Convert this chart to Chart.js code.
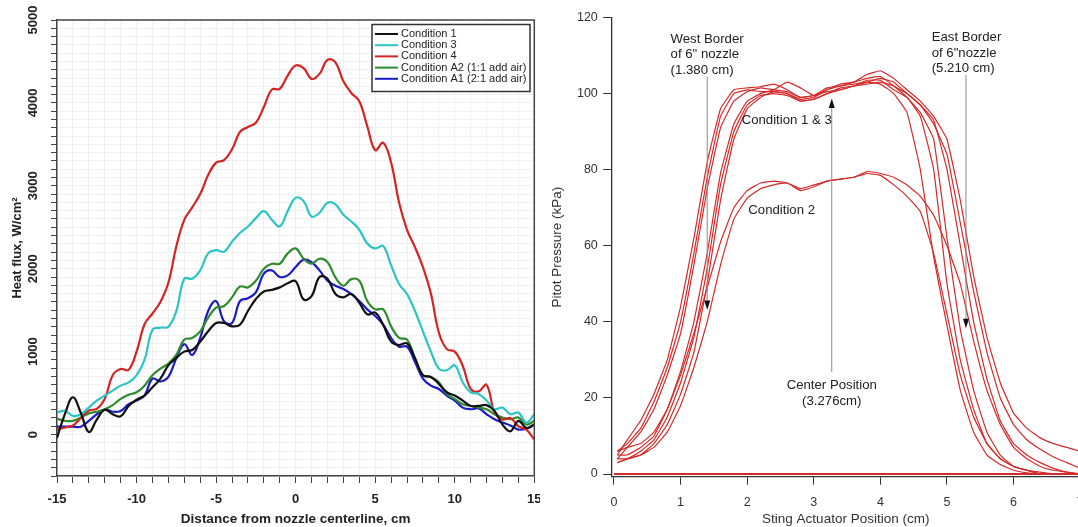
<!DOCTYPE html>
<html lang="en">
<head>
<meta charset="UTF-8">
<title>Heat flux and pitot pressure profiles</title>
<script src="https://cdn.jsdelivr.net/npm/chart.js"></script>
<style>
  html, body { margin: 0; padding: 0; overflow: hidden; background: #fff; }
  #left { position: absolute; left: 0; top: 0; }
  #right { position: absolute; left: 540px; top: 0; }
</style>
</head>
<body>
<canvas id="left" width="540" height="527"></canvas>
<canvas id="right" width="545" height="527"></canvas>
<script>
// ---- left panel: heat flux across the nozzle ----
const distance = [-15, -14.5, -14, -13.5, -13, -12.5, -12, -11.5, -11, -10.5, -10, -9.5, -9, -8.5, -8, -7.5, -7, -6.5, -6, -5.5,
  -5, -4.5, -4, -3.5, -3, -2.5, -2, -1.5, -1, -0.5, 0, 0.5, 1, 1.5, 2, 2.5, 3, 3.5, 4, 4.5,
  5, 5.5, 6, 6.5, 7, 7.5, 8, 8.5, 9, 9.5, 10, 10.5, 11, 11.5, 12, 12.5, 13, 13.5, 14, 14.5, 15];

const cond1 = [-40, 250, 450, 260, 30, 180, 300, 245, 220, 345, 420, 470, 570, 675, 835, 925, 1000, 1020, 1120, 1245,
  1345, 1345, 1305, 1325, 1490, 1635, 1725, 1745, 1775, 1825, 1850, 1630, 1670, 1900, 1880, 1695, 1655, 1695, 1590, 1450,
  1470, 1325, 1120, 1080, 1100, 920, 715, 695, 610, 510, 470, 410, 345, 345, 355, 285, 120, 40, 165, 80, 120];
const cond3 = [265, 285, 225, 245, 325, 410, 470, 530, 590, 630, 715, 900, 1265, 1290, 1300, 1490, 1880, 1880, 1980, 2185,
  2225, 2205, 2325, 2430, 2510, 2610, 2695, 2590, 2510, 2695, 2855, 2815, 2630, 2675, 2795, 2775, 2650, 2570, 2470, 2305,
  2245, 2275, 2040, 1815, 1695, 1490, 1245, 1000, 795, 775, 835, 630, 510, 490, 410, 305, 325, 245, 265, 145, 245];
const cond4 = [60, 85, 110, 200, 290, 310, 430, 715, 790, 780, 1000, 1330, 1460, 1600, 1830, 2270, 2590, 2740, 2900, 3130,
  3280, 3310, 3440, 3650, 3710, 3760, 3950, 4160, 4170, 4330, 4450, 4420, 4290, 4350, 4520, 4490, 4260, 4120, 4020, 3720,
  3430, 3520, 3280, 2800, 2470, 2260, 2020, 1700, 1230, 1030, 1000, 830, 550, 520, 600, 270, 180, 200, 100, 60, -60];
const condA2 = [190, 165, 165, 205, 255, 275, 305, 355, 430, 480, 510, 590, 715, 795, 855, 960, 1145, 1165, 1245, 1410,
  1530, 1550, 1655, 1785, 1775, 1855, 2000, 2060, 2060, 2185, 2245, 2120, 2060, 2120, 2080, 1895, 1795, 1875, 1855, 1610,
  1510, 1510, 1305, 1165, 1145, 920, 715, 695, 630, 490, 430, 365, 345, 325, 305, 245, 205, 185, 205, 120, 165];
const condA1 = [95, 95, 95, 95, 165, 245, 300, 275, 285, 365, 410, 470, 675, 640, 695, 920, 1090, 960, 1165, 1490,
  1610, 1365, 1345, 1610, 1645, 1715, 1940, 1980, 1900, 1920, 2020, 2110, 2080, 1980, 1855, 1795, 1755, 1695, 1610, 1510,
  1430, 1325, 1165, 1060, 1060, 875, 675, 590, 550, 470, 410, 325, 305, 315, 245, 185, 145, 110, 60, 70, 120];

const heatLabels = ['Condition 1', 'Condition 3', 'Condition 4', 'Condition A2 (1:1 add air)', 'Condition A1 (2:1 add air)'];
const heatSeries = [cond1, cond3, cond4, condA2, condA1];
const heatColors = ['#111111', '#2cc4c4', '#d42424', '#2e8b2e', '#1c1cc4'];

// ---- right panel: pitot pressure sweeps ----
const stingPos = [0.05, 0.2, 0.4, 0.6, 0.8, 1.0, 1.2, 1.4, 1.6, 1.8, 2.0, 2.2, 2.4, 2.6, 2.8, 3.0, 3.2, 3.4, 3.6, 3.8,
  4.0, 4.2, 4.4, 4.6, 4.8, 5.0, 5.2, 5.4, 5.6, 5.8, 6.0, 6.2, 6.4, 6.6, 6.8, 7.0];

const sweep1 = [5, 9, 14, 21, 30, 44, 62, 82, 96, 101, 101.5, 101.8, 102.5, 101, 99, 99.5, 101.5, 102, 102.5, 103,
  102.5, 100, 95, 80, 57, 39, 22, 11, 5, 2.5, 1, 0.3, 0, 0, 0, 0];
const sweep2 = [6, 8, 12, 19, 28, 40, 58, 78, 94, 100, 101, 100.5, 100.5, 100, 98, 98.5, 100, 101, 102, 103.5,
  103.5, 101, 99, 94, 80, 50, 30, 17, 8, 4, 2, 1, 0, 0, 0, 0];
const sweep3 = [4, 7, 11, 17, 26, 37, 55, 75, 91, 98, 100.5, 101.5, 101, 100.5, 99, 99.5, 100.5, 101, 102, 102.5,
  103, 102, 100, 97, 93, 80, 60, 40, 25, 14, 8, 5, 3, 1.5, 0.5, 0];
const sweep4 = [5, 5, 7, 10, 17, 27, 40, 58, 79, 92, 98, 100, 101, 103, 101.5, 99.5, 101, 102.5, 103, 104,
  104.5, 102, 99, 95, 88, 62, 38, 22, 11, 5, 2, 1, 0, 0, 0, 0];
const sweep5 = [3, 4, 6, 9, 15, 24, 36, 54, 76, 90, 97, 99.5, 100, 99.5, 98, 98.5, 100, 101.5, 102, 103,
  104, 103, 100, 97, 92, 84, 66, 48, 32, 20, 13, 9, 6.5, 4.5, 3, 1.5];
const sweep6 = [4, 4, 5, 8, 13, 21, 32, 50, 72, 88, 96, 99, 100.5, 100, 98.5, 99, 101, 102, 103, 105,
  106, 104, 101, 98, 94, 88, 72, 52, 36, 24, 16, 12, 9.5, 8, 7, 6];
const sweep7 = [6, 7, 8, 11, 17, 26, 37, 49, 61, 70, 74.5, 76.5, 77, 76.5, 75, 76, 77, 77.5, 78, 79,
  78.5, 76, 73, 69, 58, 42, 26, 15, 8, 4, 2, 1, 0.5, 0, 0, 0];
const sweep8 = [3, 4, 5, 7, 11, 18, 28, 40, 55, 67, 72.5, 75, 76, 76.5, 74.5, 75.5, 77, 77.5, 78, 79.5,
  79, 78, 76, 73, 68, 60, 50, 35, 22, 13, 7, 4, 2, 1, 0.5, 0];
const sweeps = [sweep1, sweep2, sweep3, sweep4, sweep5, sweep6, sweep7, sweep8];

const FONT = "'Liberation Sans', Arial, sans-serif";
Chart.defaults.font.family = FONT;
Chart.defaults.animation = false;

// fixed axis sizes so the plot areas land where the original ones are
function fixSize(size) {
  return function (scale) {
    if (scale.isHorizontal()) scale.height = size; else scale.width = size;
    scale.paddingLeft = scale.paddingRight = scale.paddingTop = scale.paddingBottom = 0;
  };
}

// top and right edges of the framed left plot
const frame = {
  id: 'frame',
  afterDatasetsDraw(chart) {
    const { ctx, chartArea: a } = chart;
    ctx.save();
    ctx.strokeStyle = '#444';
    ctx.lineWidth = 1.5;
    ctx.beginPath();
    ctx.moveTo(a.left, a.top);
    ctx.lineTo(a.right, a.top);
    ctx.lineTo(a.right, a.bottom);
    ctx.stroke();
    ctx.restore();
  }
};

// boxed legend in the upper right of the left plot
const boxLegend = {
  id: 'boxLegend',
  afterDraw(chart) {
    const ctx = chart.ctx;
    const left = 372, top = 24.5, w = 158, h = 67;
    ctx.save();
    ctx.fillStyle = '#fff';
    ctx.fillRect(left, top, w, h);
    ctx.strokeStyle = '#333';
    ctx.lineWidth = 1.5;
    ctx.strokeRect(left, top, w, h);
    ctx.font = '11px ' + FONT;
    ctx.textBaseline = 'middle';
    chart.data.datasets.forEach((ds, i) => {
      const y = top + 9.5 + i * 11.2;
      ctx.strokeStyle = ds.borderColor;
      ctx.lineWidth = 2;
      ctx.beginPath();
      ctx.moveTo(left + 3, y);
      ctx.lineTo(left + 26, y);
      ctx.stroke();
      ctx.fillStyle = '#222';
      ctx.fillText(ds.label, left + 29, y);
    });
    ctx.restore();
  }
};

new Chart(document.getElementById('left'), {
  type: 'line',
  data: {
    datasets: heatSeries.map((s, i) => ({
      label: heatLabels[i],
      data: s.map((v, j) => ({ x: distance[j], y: v })),
      borderColor: heatColors[i],
      borderWidth: 2.2,
      pointRadius: 0,
      tension: 0.4,
      fill: false
    }))
  },
  options: {
    responsive: false,
    layout: { padding: { top: 20, right: 5.7, left: 0, bottom: 0 } },
    plugins: { legend: { display: false }, tooltip: { enabled: false } },
    scales: {
      x: {
        type: 'linear',
        min: -15, max: 15,
        afterFit: fixSize(51),
        border: { color: '#444', width: 1.5 },
        grid: { color: '#f0f0f0', tickColor: '#444', tickLength: 7 },
        ticks: {
          stepSize: 1, autoSkip: false, maxRotation: 0, padding: 9,
          color: '#222', font: { size: 13, weight: 'bold' },
          callback: v => (v % 5 === 0 ? v : '')
        },
        title: {
          display: true, text: 'Distance from nozzle centerline, cm',
          color: '#222', font: { size: 13.5, weight: 'bold' }, padding: { top: 0, bottom: 0 }
        }
      },
      y: {
        min: -500, max: 5000,
        afterFit: fixSize(57),
        border: { color: '#444', width: 1.5 },
        grid: { color: '#f0f0f0', tickColor: '#444', tickLength: 6 },
        ticks: {
          stepSize: 100, autoSkip: false, minRotation: 90, maxRotation: 90,
          crossAlign: 'center', padding: 3,
          color: '#222', font: { size: 13, weight: 'bold' },
          callback: v => (v % 1000 === 0 ? v : '')
        },
        title: {
          display: true, text: 'Heat flux, W/cm²',
          color: '#222', font: { size: 13, weight: 'bold' }, padding: { top: 10, bottom: 0 }
        }
      }
    }
  },
  plugins: [frame, boxLegend]
});

// arrows and notes on the right plot, placed in data units
const notes = {
  id: 'notes',
  afterDatasetsDraw(chart) {
    const { ctx, scales: { x, y } } = chart;
    ctx.save();
    const arrows = [[1.40, 104.5, 43.1], [5.285, 104.9, 38.3], [3.27, 26.8, 98.7]];
    arrows.forEach(([ax, y0, y1]) => {
      const px = x.getPixelForValue(ax);
      const p0 = y.getPixelForValue(y0);
      const p1 = y.getPixelForValue(y1);
      const dir = Math.sign(p1 - p0);
      ctx.strokeStyle = '#8a8a8a';
      ctx.lineWidth = 1;
      ctx.beginPath();
      ctx.moveTo(px, p0);
      ctx.lineTo(px, p1 - dir * 8);
      ctx.stroke();
      ctx.fillStyle = '#111';
      ctx.beginPath();
      ctx.moveTo(px, p1);
      ctx.lineTo(px - 3, p1 - dir * 9.5);
      ctx.lineTo(px + 3, p1 - dir * 9.5);
      ctx.closePath();
      ctx.fill();
    });

    ctx.fillStyle = '#222';
    ctx.font = '13.2px ' + FONT;
    ctx.textBaseline = 'middle';
    const text = (s, vx, vy, align) => {
      ctx.textAlign = align;
      ctx.fillText(s, x.getPixelForValue(vx), y.getPixelForValue(vy));
    };
    text('West Border', 0.85, 114.3, 'left');
    text('of 6" nozzle', 0.85, 110.2, 'left');
    text('(1.380 cm)', 0.85, 106.2, 'left');
    text('East Border', 4.77, 114.8, 'left');
    text('of 6"nozzle', 4.77, 110.7, 'left');
    text('(5.210 cm)', 4.77, 106.6, 'left');
    text('Condition 1 & 3', 1.917, 93.0, 'left');
    text('Condition 2', 2.017, 69.4, 'left');
    text('Center Position', 3.27, 23.4, 'center');
    text('(3.276cm)', 3.27, 19.2, 'center');
    ctx.restore();
  }
};

const pitotSets = sweeps.map(s => ({
  data: s.map((v, j) => ({ x: stingPos[j], y: v })),
  borderColor: '#d42a2a',
  borderWidth: 1.2,
  pointRadius: 0,
  tension: 0.1,
  fill: false
}));
pitotSets.push({
  data: [{ x: 0, y: 0 }, { x: 7, y: 0 }],
  borderColor: '#d42a2a',
  borderWidth: 2,
  pointRadius: 0,
  fill: false
});

new Chart(document.getElementById('right'), {
  type: 'line',
  data: { datasets: pitotSets },
  options: {
    responsive: false,
    layout: { padding: { top: 17.5, right: 4.8, left: 0, bottom: 0 } },
    plugins: { legend: { display: false }, tooltip: { enabled: false } },
    scales: {
      x: {
        type: 'linear',
        min: -0.04, max: 7,
        afterFit: fixSize(50.3),
        border: { color: '#333', width: 1.3 },
        grid: { drawOnChartArea: false, tickColor: '#333', tickLength: 8 },
        ticks: {
          stepSize: 1, includeBounds: false, autoSkip: false, maxRotation: 0, padding: 10,
          color: '#333', font: { size: 12.5 }
        },
        title: {
          display: true, text: 'Sting Actuator Position (cm)',
          color: '#333', font: { size: 13.5 }, padding: { top: 0, bottom: 0 }
        }
      },
      y: {
        min: -0.7, max: 120,
        afterFit: fixSize(71.3),
        border: { color: '#333', width: 1.3 },
        grid: { drawOnChartArea: false, tickColor: '#333', tickLength: 8 },
        ticks: {
          stepSize: 20, includeBounds: false, autoSkip: false, padding: 5.5,
          color: '#333', font: { size: 12.5 }
        },
        title: {
          display: true, text: 'Pitot Pressure (kPa)',
          color: '#333', font: { size: 13.5 }, padding: { top: 9, bottom: 0 }
        }
      }
    }
  },
  plugins: [notes]
});
</script>
</body>
</html>
